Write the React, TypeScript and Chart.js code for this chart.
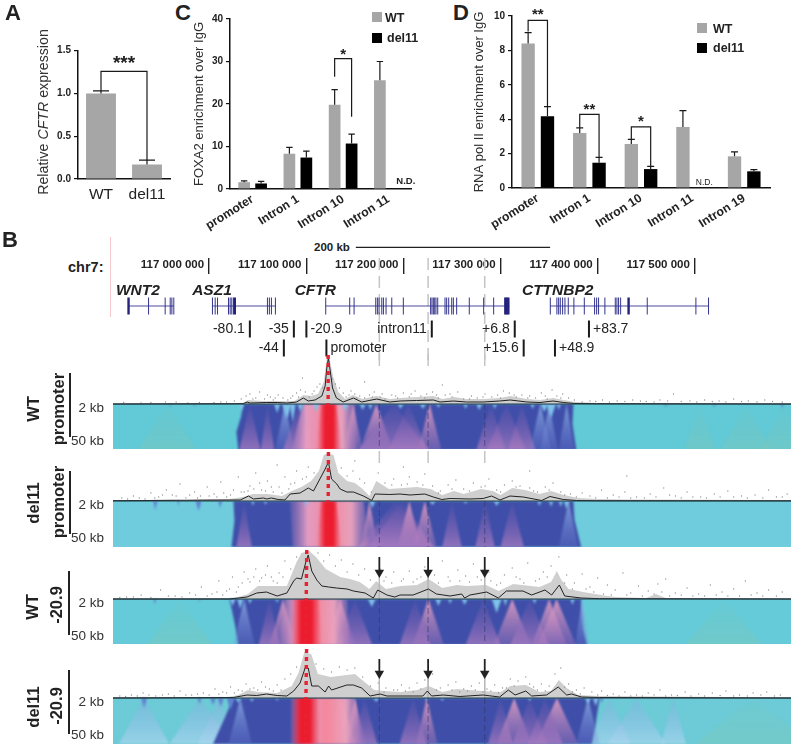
import React, { useEffect, useRef } from "react";
import { Chart, registerables } from "chart.js";
Chart.register(...registerables);

const FONT = '"Liberation Sans", Arial, sans-serif';
const GREY = "#a6a6a6";
const INK = "#222";

// ---------- Panel A ----------
const aCategories = ["WT", "del11"];
const aValues = [1.0, 0.17];
const aErrTop = [1.03, 0.22];

// ---------- Panel C ----------
const cCategories = ["promoter", "Intron 1", "Intron 10", "Intron 11"];
const cWT = [1.6, 8.3, 19.8, 25.6];
const cDel = [1.3, 7.4, 10.7, null];
const cWTErr = [1.9, 9.8, 23.4, 30];
const cDelErr = [1.8, 8.9, 12.9, null];

// ---------- Panel D ----------
const dCategories = ["promoter", "Intron 1", "Intron 10", "Intron 11", "Intron 19"];
const dWT = [8.4, 3.2, 2.56, 3.55, 1.84];
const dDel = [4.17, 1.47, 1.1, null, 0.97];
const dWTErr = [9.03, 3.5, 2.83, 4.5, 2.1];
const dDelErr = [4.73, 1.78, 1.26, null, 1.07];

// ---------- Panel B: genome browser (kb from chr7:117 000 000) ----------
const rulerTicks = [0, 100, 200, 300, 400, 500];
const rulerLabels = ["117 000 000", "117 100 000", "117 200 000", "117 300 000", "117 400 000", "117 500 000"];
const geneNames = ["WNT2", "ASZ1", "CFTR", "CTTNBP2"];
const geneLabelAt = [-96, -17.5, 88, 322];
const geneSpans = [[-83, -36.4], [3.4, 68.2], [120, 309], [351.2, 514.1]];
const exons = [
  -62.4, -45.3, -40.1, -38.4, -36.4,
  3.4, 6.2, 8.6, 19.9, 21.6, 23.3, 25, 60, 62, 64.1, 68.2,
  120, 144.7, 149.2, 171.5, 173.2, 174.9, 177.7, 179.4, 182.1, 188, 199.9, 228, 229.4, 230.8, 232.2, 233.5, 235.3,
  242.8, 244.5, 246.6, 249.7, 251.4, 254.8, 267.8, 282.6, 292.9,
  351.2, 358, 359.8, 361.5, 363.9, 366.3, 369.7, 375.5, 386.2, 396.8, 398.9, 400.9, 407.4, 418.1, 419.8, 421.5, 423.6, 451, 501.1, 514.1,
];
const thickExons = [-83, 26.4, 304.9, 306.3, 308, 431.8];
const siteNames = ["-80.1", "-35", "-20.9", "intron11", "+6.8", "+83.7", "-44", "promoter", "+15.6", "+48.9"];
const sitePos = [41.9, 87.2, 100.1, 229.2, 314.6, 391, 76.9, 120.7, 323.8, 356];
const siteRow = [0, 0, 0, 0, 0, 0, 1, 1, 1, 1];
const siteSide = ["L", "L", "R", "L", "L", "R", "L", "R", "L", "R"];
const guideLines = [175.2, 225.4, 283.7];
const scaleBar = [151, 351];

const heatTicks = [-37, -4];
const heatTickLabels = ["50 kb", "2 kb"];

const t1Line = [[-99,0],[35,0.3],[39,2],[42,1],[59,1.5],[70,1.5],[80,1],[90,2],[97,6],[102,3],[109,4],[116,8],[119.4,18],[121,35],[122.8,46],[124.5,34],[127,16],[131,6],[138,2],[148.5,6],[157,2],[172.5,5],[186,2],[196.5,3],[213.6,3.5],[230.8,4],[237.7,2],[251.4,3],[265,2],[282,2],[299,3],[310,4],[327,2],[340.6,1.5],[354,3],[364.6,1.5],[376.6,0.5],[399,0.3],[599,0]];
const t1Band = [[-99,0.5],[30,0.7],[35,1],[40,4],[55,3],[75,3],[88,3],[97,9],[105,8],[112,10],[118,22],[121,45],[122.5,48],[124,45],[128,26],[133,12],[140,5],[148,9],[158,5],[172,8],[186,5],[197,6],[214,7],[231,8],[240,5],[252,7],[265,5],[282,5],[299,6],[310,8],[327,5],[341,4],[354,6],[365,4],[377,2],[400,1],[599,0.5]];
const t1Dots = [[-70,1],[-45,2],[-22,1],[5,1.5],[18,2],[33,5],[38,8],[42,10],[48,6],[52,12],[57,5],[63,7],[66,4],[71,9],[76,6],[81,4],[86,8],[90,11],[94,14],[99,12],[103,7],[108,13],[111,17],[114,20],[117,16],[127,25],[130,20],[134,16],[138,11],[141,7],[146,13],[150,10],[155,8],[160,6],[165,9],[170,12],[176,7],[181,5],[188,9],[194,6],[200,11],[206,7],[212,13],[218,8],[224,10],[230,12],[236,6],[243,9],[250,7],[256,12],[262,5],[270,8],[276,6],[284,10],[291,7],[297,9],[303,13],[309,11],[316,7],[322,9],[330,8],[336,6],[342,11],[348,5],[353,14],[358,8],[364,10],[370,6],[376,4],[392,3],[405,4],[420,3],[436,4],[450,2.5],[464,4],[478,10],[495,3],[510,4],[525,3],[540,5],[555,3],[572,4],[590,2],[160,22],[240,19],[96,26],[-88,1.5],[-60,1.5],[-34,2],[-10,1.5],[12,2],[26,3],[45,5],[60,9],[68,6],[84,6],[92,7],[106,10],[144,9],[152,6],[168,7],[178,10],[192,8],[208,10],[222,6],[234,9],[248,10],[268,5],[282,7],[300,6],[314,9],[328,6],[346,8],[362,6],[384,2],[398,2.5],[412,2],[428,2.5],[444,3],[458,2],[472,3],[486,2.5],[502,2],[518,2.5],[532,2],[548,2.5],[564,2],[580,2.5]];

const t2Line = [[-99,0.3],[25,1],[32,1],[40.5,5],[45.6,2],[55.9,3],[59.3,2],[64,3],[71,1.5],[78,1],[83.4,7],[93.6,8],[102,13],[107.4,10],[114,22],[119.4,32],[122.8,39],[126,22],[131.4,17],[134.8,12],[141.7,9],[148.5,9],[158.8,5],[167.4,0.5],[170.8,7],[186,6.5],[196.5,7],[206.8,6],[222,7],[230.8,4],[239.4,1.5],[248,2.5],[268.5,2],[282,2.5],[290.8,5],[299.4,1],[309.7,5],[323.4,4],[342.3,0.5],[350.9,4.5],[364.6,1.5],[378.3,0.5],[399,0.3],[599,0.2]];
const t2Band = [[-99,1],[-60,1],[-40,1.5],[-25,1],[0,2],[20,2],[35,4],[45,7],[60,7],[75,5],[85,10],[95,14],[105,20],[113,30],[118,46],[122,48],[128,46],[133,28],[142,20],[150,18],[158,12],[165,5],[172,20],[185,12],[200,13],[214,14],[228,12],[240,6],[252,10],[262,7],[280,12],[292,10],[300,6],[312,13],[325,11],[340,7],[352,10],[365,6],[380,3],[400,2],[430,1.5],[599,1]];
const t2Dots = [[-90,3],[-78,5],[-66,2],[-60,8],[-52,4],[-44,11],[-38,6],[-30,17],[-24,3],[-15,9],[-9,5],[-2,14],[5,7],[12,19],[18,4],[25,11],[30,24],[36,9],[42,15],[48,28],[54,11],[60,20],[66,9],[72,14],[78,24],[84,17],[90,30],[96,22],[102,34],[108,28],[136,33],[142,25],[148,30],[155,22],[160,18],[167,9],[174,28],[181,18],[190,22],[198,16],[206,24],[214,19],[222,27],[230,15],[238,10],[246,16],[254,21],[262,12],[272,18],[280,14],[288,22],[296,11],[304,16],[312,20],[320,15],[330,13],[338,9],[346,14],[354,18],[362,9],[372,7],[384,8],[392,5],[404,11],[416,6],[428,9],[440,4],[454,7],[468,13],[480,5],[492,9],[506,4],[520,7],[534,10],[548,5],[562,6],[576,11],[590,4],[595,7],[150,40],[70,36],[200,34],[330,30],[430,25],[-84,2],[-72,3],[-56,3],[-48,6],[-34,5],[-20,6],[-12,3],[0,5],[8,4],[15,8],[22,6],[33,9],[40,10],[46,12],[52,18],[58,10],[64,14],[75,8],[82,12],[88,18],[100,24],[188,16],[204,17],[220,16],[236,8],[250,12],[268,10],[284,15],[300,9],[316,14],[334,10],[350,11],[366,6],[378,4],[398,3],[410,3],[422,4],[434,3],[448,3],[460,4],[474,6],[486,3],[498,4],[512,3],[526,4],[540,4],[554,3],[570,3],[584,4]];

const t3Line = [[-99,0],[21,0],[39,2],[49,6],[59,7],[70,3],[80,6],[87,18],[90,21],[95,20],[99.8,38],[102,44],[105.6,28],[110.8,19],[116,13],[123,12],[131,11],[142,10],[148.5,8],[160.5,6],[169,1],[173.5,9],[183,4],[191,2],[196.5,4],[210,4],[225.7,10],[234,5],[248,3],[260,5],[263,1],[268.5,4],[285.7,7],[297.7,1],[306,8],[323,8],[332,4],[345.7,9],[352.6,4],[360.5,14],[366,3],[383,1],[402,0.3],[599,0]];
const t3Band = [[-99,0.5],[25,1],[30,2],[40,5],[50,13],[65,13],[80,13],[85,25],[90,37],[95,46],[103,48],[110,42],[120,30],[135,22],[145,20],[155,17],[165,10],[172,18],[182,10],[197,13],[214,14],[226,20],[240,11],[255,14],[265,13],[285,14],[298,8],[313,15],[340,12],[352,17],[358,28],[362,20],[370,10],[385,7],[410,3],[420,2],[450,1],[460,5],[470,1],[599,0.5]];
const t3Dots = [[-85,2],[-70,4],[-60,1.5],[-50,9],[-35,3],[-20,6],[-8,12],[3,5],[10,18],[18,8],[24,22],[30,12],[36,27],[42,17],[48,30],[54,21],[60,33],[66,18],[72,26],[78,38],[84,30],[90,42],[112,46],[118,38],[124,44],[130,33],[136,39],[142,27],[148,35],[154,24],[160,30],[166,19],[176,30],[182,22],[190,27],[198,18],[206,28],[214,20],[222,32],[232,24],[240,38],[248,18],[256,29],[264,23],[272,35],[280,19],[288,27],[296,14],[304,24],[312,31],[320,20],[328,36],[336,18],[344,27],[352,33],[360,42],[368,24],[376,16],[384,25],[392,12],[400,21],[410,14],[418,9],[426,26],[434,6],[442,13],[452,8],[462,15],[470,20],[480,6],[492,11],[504,5],[516,14],[528,7],[540,10],[552,18],[564,6],[576,9],[590,7],[-92,1.5],[-78,2],[-42,3],[-28,2],[-14,4],[-2,3],[8,7],[14,4],[21,10],[28,7],[34,16],[40,20],[46,22],[52,18],[58,24],[64,22],[70,16],[76,22],[180,18],[188,16],[200,20],[210,17],[218,22],[236,16],[246,22],[258,18],[268,17],[276,22],[290,18],[300,16],[316,22],[324,16],[340,20],[348,22],[366,16],[374,10],[388,10],[396,7],[406,5],[414,4],[430,4],[446,3],[458,5],[466,7],[474,3],[486,4],[498,3],[510,3],[522,4],[534,3],[546,3],[558,4],[570,3],[584,3]];

const t4Line = [[-99,0],[25,0.5],[39,3],[49,2.5],[59,4],[70,2.5],[80,2],[87,7],[93.6,15],[99.5,32],[102,30],[105.6,12],[112.5,12],[119.4,6],[123,12],[126,8],[141.7,13],[148.5,13],[157,10],[165.7,2],[176,4],[183,2],[196.5,2],[210,2],[220,2],[224.6,7],[229,2],[241,3],[258,1.5],[282,3],[299,1],[308,8],[315,3],[326,7],[332,2],[347.4,3],[359.4,11],[368,3],[373,4],[383.4,1],[402,0.5],[599,0]];
const t4Band = [[-99,0.7],[0,1],[20,1],[30,3],[40,8],[50,6],[70,5],[85,12],[92,25],[98,46],[105,44],[112,24],[125,21],[150,24],[160,16],[170,8],[180,7],[197,6],[214,8],[226,12],[240,6],[255,9],[280,7],[300,6],[310,12],[326,13],[340,6],[352,7],[360,18],[368,10],[380,3],[400,2],[599,0.6]];
const t4Dots = [[-92,2],[-80,3],[-68,5],[-55,2],[-42,4],[-30,7],[-18,3],[-6,5],[6,9],[14,6],[22,11],[30,8],[38,14],[46,10],[54,16],[62,9],[70,13],[78,19],[84,24],[90,31],[110,34],[118,29],[126,26],[134,31],[142,28],[150,30],[158,21],[166,12],[174,15],[182,10],[190,8],[198,13],[206,10],[214,15],[222,18],[230,24],[238,10],[246,13],[254,16],[262,9],[270,12],[278,15],[286,9],[294,13],[302,10],[310,19],[318,17],[326,21],[334,11],[342,14],[350,12],[356,24],[362,30],[370,14],[378,8],[386,10],[394,6],[404,7],[416,4],[428,6],[440,3],[452,5],[464,8],[476,3],[490,6],[504,4],[518,5],[532,7],[546,3],[560,5],[574,6],[588,3],[-86,1.5],[-74,2],[-62,3],[-48,3],[-36,2],[-24,3],[-12,4],[0,3],[10,4],[18,5],[26,5],[34,7],[42,9],[50,8],[58,11],[66,7],[74,8],[180,6],[194,8],[202,7],[210,6],[218,9],[234,8],[250,8],[258,6],[266,7],[274,8],[282,6],[290,7],[298,5],[306,10],[314,12],[330,14],[338,8],[346,7],[366,11],[374,6],[382,4],[400,3],[410,2.5],[422,2],[434,2],[446,2],[458,3],[470,2],[482,2.5],[496,2],[510,2],[526,2.5],[540,2],[554,2],[568,3],[582,2]];

// heat map layers (kb, depth)
type Tri = [number, number, string];
const t1Domain = [[35,0],[375,0],[374,-20],[378,-46],[30,-46],[28,-28],[33,-12]];
const t2Domain = [[25,0],[375,0],[376,-18],[383,-46],[23,-46],[26,-20]];
const t3Domain = [[21,0],[383,0],[385,-30],[389,-46],[30,-46],[27,-28]];
const t4Domain = [[25,0],[402,0],[398,-25],[394,-46],[4,-46],[15,-22]];
const t1Tints: Tri[] = [[-43,30,"tint"],[553,26,"tint"],[591,22,"tint"],[505,16,"tint"]];
const t2Tints: Tri[] = [];
const t3Tints: Tri[] = [[-30,34,"tint"],[530,40,"tint"]];
const t4Tints: Tri[] = [[-67,26,"pale"],[-9,32,"pale"],[10,22,"pale"],[412,22,"pale"],[440,30,"pale"],[478,13,"pale"],[560,60,"tint"]];
const t1Tris: Tri[] = [[42,11,"purple"],[60,7,"purple"],[78,10,"sky"],[92,16,"purple"],[148,10,"pink"],[172,17,"pink"],[190,36,"purple"],[205,20,"purple"],[227,12,"pink"],[290,15,"purple"],[306,20,"purple"],[322,14,"purple"],[341,11,"sky"],[350,9,"sky"],[368,8,"sky"]];
const t2Tris: Tri[] = [[36,8,"purple"],[165,9,"pink"],[192,38,"purple"],[198,34,"purple"],[222,12,"pink"],[206,12,"pink"],[250,10,"purple"],[284,10,"purple"],[312,12,"purple"],[370,10,"sky"]];
const t3Tris: Tri[] = [[36,11,"sky"],[62,11,"purple"],[76,14,"pink"],[135,15,"pink"],[150,18,"purple"],[225.7,16,"pink"],[212,16,"purple"],[282,18,"purple"],[312,19,"pink"],[330,20,"purple"],[357.7,20,"pink"],[350,18,"pink"],[384,7,"sky"]];
const t4Tris: Tri[] = [[32,12,"sky"],[135,16,"pink"],[150,11,"pink"],[160,13,"purple"],[224,11,"pink"],[210,14,"purple"],[300,13,"purple"],[314,18,"pink"],[330,18,"purple"],[358,22,"pink"],[346,18,"purple"],[390,12,"sky"]];
const t1Dents = [[-40,1,3],[-15,1,3],[33,3,7],[70,3,9],[80,5,15],[86,3,18],[94,3,8],[110,3,8],[140,3,7],[158,3,6],[166,2,6],[197,3,5],[220,3,5],[236,2,4],[264,2,5],[278,3,6],[294,2,5],[333,2,5],[345,4,8],[352,5,14],[360,2,6],[470,1.5,3],[520,1.5,3],[590,1.5,4]];
const t2Dents = [[-55.5,2,9],[-31.6,1,5],[-11,3,10],[11.3,2,7],[45,1.5,5],[58,1.5,4],[100,2,5],[168,3,7],[230,3,4],[264,2,3],[296,3,5],[340,2,5],[352,2,6],[362,2,6],[368,3,8]];
const t3Dents = [[-56,1.5,5],[-10,1,3],[24,3,7],[32,3,10],[42,2,5],[70,1.5,4],[167.4,4,8],[236,3,7],[248,2,5],[263,3,6],[296,5,14],[305,2,7],[335,2,5],[374,2,6]];
const t4Dents = [[-67,3,10],[-10,2,6],[4,3,7],[12,3,9],[22,4,12],[30,3,5],[44,2,4],[70,1.5,3],[172,3,4],[224,2,3],[240,2,3],[330,2,3],[390,3,6],[398,3,8],[404,2,5]];
const pinkBands = [[96,150,85,152],[83,159,86,165],[78,142,72,145],[84,150,84,157]];
const redBands = [[115,131,111,136],[115,131,111,136],[86,113,84,116],[86,112,84,114]];
const redMarks = [[122.5,122.5],[122.8,122.3],[100.5,99.3],[100.3,99]];
const arrowsAt = [175.2, 225.4, 283.7];

const tracks = [
  { name: ["WT", "promoter"], base: 404, depth: 45, teal: "#62c9d6", domain: t1Domain, tints: t1Tints, tris: t1Tris, dents: t1Dents, line: t1Line, band: t1Band, dots: t1Dots, arrows: false },
  { name: ["del11", "promoter"], base: 501, depth: 46, teal: "#6fccdd", domain: t2Domain, tints: t2Tints, tris: t2Tris, dents: t2Dents, line: t2Line, band: t2Band, dots: t2Dots, arrows: false },
  { name: ["WT", "-20.9"], base: 599, depth: 45, teal: "#65cbd8", domain: t3Domain, tints: t3Tints, tris: t3Tris, dents: t3Dents, line: t3Line, band: t3Band, dots: t3Dots, arrows: true },
  { name: ["del11", "-20.9"], base: 698, depth: 46, teal: "#6ccbd6", domain: t4Domain, tints: t4Tints, tris: t4Tris, dents: t4Dents, line: t4Line, band: t4Band, dots: t4Dots, arrows: true },
];

const triKinds: Record<string, [string, string]> = {
  pink: ["rgba(238,165,195,.85)", "rgba(165,118,188,.4)"],
  purple: ["rgba(120,90,175,.15)", "rgba(165,122,192,.8)"],
  sky: ["rgba(150,185,235,.75)", "rgba(110,130,215,.25)"],
  pale: ["rgba(135,170,225,.3)", "rgba(170,215,240,.7)"],
  tint: ["rgba(125,200,185,.05)", "rgba(125,200,185,.45)"],
};
const pinkStops = ["rgba(190,130,190,0)", "rgba(236,160,195,.95)", "rgba(245,135,155,1)", "rgba(240,165,190,.95)", "rgba(190,130,190,0)"];
const redStops = ["rgba(238,40,60,0)", "rgba(236,28,46,1)", "rgba(236,28,46,1)", "rgba(238,40,60,0)"];

function toPts(a: number[][]) { return a.map(([x, y]) => ({ x, y })); }

// track canvases share one frame: baseline 50px down, plot from 43px over a 678px wide area
const kbToCanvas = (kb: number) => 43 + ((kb + 99) / 698) * 678;
function vgrad(top: string, bottom: string) {
  let g: any = null;
  return (c: any) => {
    if (!g) {
      g = c.chart.ctx.createLinearGradient(0, 50, 0, 96);
      g.addColorStop(0, top); g.addColorStop(1, bottom);
    }
    return g;
  };
}
function hgrad(l: number, r: number, stops: string[]) {
  let g: any = null;
  return (c: any) => {
    if (!g) {
      g = c.chart.ctx.createLinearGradient(kbToCanvas(l), 0, kbToCanvas(r), 0);
      stops.forEach((s, i) => g.addColorStop(i / (stops.length - 1), s));
    }
    return g;
  };
}
function poly(points: number[][], backgroundColor: any) {
  return { data: toPts(points), showLine: true, fill: "shape", backgroundColor, borderWidth: 0, pointRadius: 0, tension: 0 };
}
const zeroPad = (s: any) => { s.paddingTop = 0; s.paddingBottom = 0; s.paddingLeft = 0; s.paddingRight = 0; };

type Bracket = { cat: number; top: number; left: number; right: number; label: string; size: number; lift: number };
function barDecor(cfg: { errs: (number | null)[][]; cap: number; brackets: Bracket[]; notes?: { cat: number; ds: number; text: string; font: string; dx: number; dy: number }[] }) {
  return {
    id: "barDecor",
    afterDatasetsDraw(chart: any) {
      const { ctx, scales } = chart;
      const y = scales.y;
      ctx.save();
      ctx.strokeStyle = "#1a1a1a";
      cfg.errs.forEach((series, ds) => {
        const meta = chart.getDatasetMeta(ds);
        series.forEach((v, i) => {
          if (v === null) return;
          const bar = meta.data[i];
          const py = y.getPixelForValue(v);
          ctx.lineWidth = 1.2;
          ctx.beginPath();
          ctx.moveTo(bar.x, bar.y); ctx.lineTo(bar.x, py);
          ctx.moveTo(bar.x - cfg.cap, py); ctx.lineTo(bar.x + cfg.cap, py);
          ctx.stroke();
        });
      });
      const single = chart.data.datasets.length === 1;
      cfg.brackets.forEach((b) => {
        const xL = chart.getDatasetMeta(0).data[b.cat].x;
        const xR = single ? chart.getDatasetMeta(0).data[b.cat + 1].x : chart.getDatasetMeta(1).data[b.cat].x;
        ctx.lineWidth = 1.2;
        ctx.beginPath();
        ctx.moveTo(xL, y.getPixelForValue(b.left));
        ctx.lineTo(xL, y.getPixelForValue(b.top));
        ctx.lineTo(xR, y.getPixelForValue(b.top));
        ctx.lineTo(xR, y.getPixelForValue(b.right));
        ctx.stroke();
        ctx.fillStyle = "#222";
        ctx.font = `bold ${b.size}px ${FONT}`;
        ctx.textAlign = "center";
        ctx.textBaseline = "middle";
        ctx.fillText(b.label, (xL + xR) / 2, y.getPixelForValue(b.top) - b.lift);
      });
      (cfg.notes || []).forEach((n) => {
        const bar = chart.getDatasetMeta(n.ds).data[n.cat];
        ctx.font = n.font;
        ctx.fillStyle = "#222";
        ctx.textAlign = "center";
        ctx.textBaseline = "middle";
        ctx.fillText(n.text, bar.x + n.dx, y.getPixelForValue(0) + n.dy);
      });
      ctx.restore();
    },
  };
}

function barConfig(o: any) {
  const { box, plot, categories, series, yMax, step, tickFmt, title, xFont, rotation, catPct, barPct, decor, tickPad } = o;
  const yWidth = plot.l - box.l;
  const xHeight = box.t + box.h - plot.b;
  return {
    type: "bar",
    data: {
      labels: categories,
      datasets: series.map((s: any) => ({ label: s.label, data: s.data, backgroundColor: s.color, categoryPercentage: catPct, barPercentage: barPct })),
    },
    options: {
      responsive: false,
      animation: false,
      layout: { autoPadding: false, padding: { top: plot.t - box.t, right: box.l + box.w - plot.r, left: 0, bottom: 0 } },
      plugins: { legend: { display: false }, tooltip: { enabled: false } },
      scales: {
        x: {
          afterFit: (s: any) => { s.height = xHeight; zeroPad(s); },
          grid: { display: false },
          border: { color: "#111", width: 1.5 },
          ticks: { color: INK, font: xFont, minRotation: rotation, maxRotation: rotation, padding: tickPad, autoSkip: false },
        },
        y: {
          min: 0, max: yMax,
          afterFit: (s: any) => { s.width = yWidth; zeroPad(s); },
          grid: { drawOnChartArea: false, drawTicks: true, tickLength: 4, color: "#111", lineWidth: 1.2 },
          border: { color: "#111", width: 1.5 },
          title: title ? { display: true, text: title, color: "#2e2e2e", font: { family: FONT, size: 13 }, padding: 0 } : { display: false },
          ticks: { stepSize: step, color: INK, font: { family: FONT, size: 10, weight: "bold" }, padding: 3, callback: tickFmt },
        },
      },
    },
    plugins: [barDecor(decor)],
  };
}

function geneConfig() {
  const pad = { left: 113, right: 5, top: 0, bottom: 0 };
  const pts = (xs: number[], y: number) => xs.map((x) => ({ x, y }));
  const laneGene = 32;
  const rowY = [55, 74];
  const datasets: any[] = [];
  guideLines.forEach((g) => datasets.push({ data: [{ x: g, y: -16 }, { x: g, y: 86 }], showLine: true, borderColor: "#c4c4c4", borderWidth: 1.5, borderDash: [12, 6], pointRadius: 0, clip: false }));
  geneSpans.forEach((s) => datasets.push({ data: pts(s, laneGene), showLine: true, borderColor: "#4a4a9e", borderWidth: 1, pointRadius: 0 }));
  datasets.push({ data: pts(exons, laneGene), pointStyle: "line", rotation: 90, radius: 8.5, borderColor: "#34348e", borderWidth: 1 });
  datasets.push({ data: pts(thickExons, laneGene), pointStyle: "line", rotation: 90, radius: 8.5, borderColor: "#23237e", borderWidth: 2.4 });
  datasets.push({ data: sitePos.map((x, i) => ({ x, y: rowY[siteRow[i]] })), pointStyle: "line", rotation: 90, radius: 8.5, borderColor: "#1a1a1a", borderWidth: 2 });
  datasets.push({ data: pts(scaleBar, -26.7), showLine: true, borderColor: "#222", borderWidth: 1.2, pointStyle: "line", rotation: 90, radius: 4.5, clip: false });
  const labels = {
    id: "geneLabels",
    afterDraw(chart: any) {
      const { ctx, scales } = chart;
      ctx.save();
      ctx.textBaseline = "middle";
      ctx.fillStyle = "#222";
      ctx.font = `italic bold 15.5px ${FONT}`;
      ctx.textAlign = "left";
      geneNames.forEach((n, i) => ctx.fillText(n, scales.x.getPixelForValue(geneLabelAt[i]), scales.y.getPixelForValue(17)));
      ctx.font = `14px ${FONT}`;
      siteNames.forEach((n, i) => {
        const left = siteSide[i] === "L";
        ctx.textAlign = left ? "right" : "left";
        ctx.fillText(n, scales.x.getPixelForValue(sitePos[i]) + (left ? -5 : 4), scales.y.getPixelForValue(rowY[siteRow[i]]));
      });
      ctx.restore();
    },
  };
  return {
    type: "scatter",
    data: { datasets: datasets.map((d, i) => ({ ...d, order: -i })) },
    options: {
      responsive: false,
      animation: false,
      layout: { autoPadding: false, padding: pad },
      plugins: { legend: { display: false }, tooltip: { enabled: false } },
      scales: {
        x: {
          type: "linear", min: -99, max: 599, position: "top",
          afterFit: (s: any) => { s.height = 38; zeroPad(s); },
          afterBuildTicks: (s: any) => { s.ticks = rulerTicks.map((value) => ({ value })); },
          grid: { drawOnChartArea: false, drawTicks: true, tickLength: 16, color: "#222", lineWidth: 1.4 },
          border: { display: false },
          ticks: {
            autoSkip: false, maxRotation: 0, align: "end", padding: -14, labelOffset: -5, color: "#222",
            font: { family: FONT, size: 11.5, weight: "bold" },
            callback: (v: number) => rulerLabels[rulerTicks.indexOf(v)],
          },
        },
        y: { display: false, min: 0, max: 86, reverse: true, afterFit: zeroPad },
      },
    },
    plugins: [labels],
  };
}

function trackConfig(t: (typeof tracks)[number], idx: number) {
  const ds: any[] = [];
  ds.push(poly([[-99, 0], [599, 0], [599, -46], [-99, -46]], t.teal));
  t.tints.forEach(([a, h, k]) => ds.push(poly([[a, 0], [a + h, -46], [a - h, -46]], vgrad(triKinds[k][0], triKinds[k][1]))));
  ds.push(poly(t.domain, "#3f4fa9"));
  t.tris.forEach(([a, h, k]) => ds.push(poly([[a, 0], [a + h, -46], [a - h, -46]], vgrad(triKinds[k][0], triKinds[k][1]))));
  const pb = pinkBands[idx];
  ds.push(poly([[pb[0], 0], [pb[1], 0], [pb[3], -46], [pb[2], -46]], hgrad(Math.min(pb[0], pb[2]) - 4, Math.max(pb[1], pb[3]) + 4, pinkStops)));
  const rb = redBands[idx];
  ds.push(poly([[rb[0], 0], [rb[1], 0], [rb[3], -46], [rb[2], -46]], hgrad(Math.min(rb[0], rb[2]), Math.max(rb[1], rb[3]), redStops)));
  t.dents.forEach(([x, h, d]) => ds.push(poly([[x - h, 0], [x + h, 0], [x, -d]], x > 22 && x < 400 ? "#7fc3ea" : "#5f7fd0")));
  const lastHeat = ds.length - 1;
  ds.push({ data: toPts(t.band), showLine: true, fill: { value: 0 }, backgroundColor: "#cfcfcf", borderWidth: 0, pointRadius: 0 });
  ds.push({ data: toPts(t.dots), pointRadius: 0.65, backgroundColor: "#8f8f8f", borderWidth: 0 });
  guideLines.forEach((g) => {
    ds.push({ data: [{ x: g, y: 0 }, { x: g, y: -46 }], showLine: true, borderColor: "rgba(50,50,90,.55)", borderWidth: 1, borderDash: [6, 3], pointRadius: 0 });
    if (!t.arrows) ds.push({ data: [{ x: g, y: 50 }, { x: g, y: 36 }], showLine: true, borderColor: "#c4c4c4", borderWidth: 1.5, borderDash: [12, 6], pointRadius: 0 });
    else ds.push({ data: [{ x: g, y: 22 }, { x: g, y: 0 }], showLine: true, borderColor: "#b8b8b8", borderWidth: 1, pointRadius: 0 });
  });
  ds.push({ data: toPts(t.line), showLine: true, borderColor: "#222", borderWidth: 1, pointRadius: 0, tension: 0 });
  ds.push({ data: [{ x: -99, y: 0 }, { x: 599, y: 0 }], showLine: true, borderColor: "#1f3a44", borderWidth: 1, pointRadius: 0 });
  const rm = redMarks[idx];
  ds.push({ data: [{ x: rm[0], y: 49 }, { x: rm[1], y: -46 }], showLine: true, borderColor: "#e8202f", borderWidth: 3.4, borderDash: [4, 4], pointRadius: 0 });
  if (t.arrows) {
    ds.push({ data: arrowsAt.map((x) => ({ x, y: idx === 2 ? 34 : 31 })), pointStyle: "line", rotation: 90, radius: 8, borderColor: "#222", borderWidth: 1.8 });
    ds.push({ data: arrowsAt.map((x) => ({ x, y: idx === 2 ? 26.5 : 24.5 })), pointStyle: "triangle", rotation: 180, radius: 5.5, backgroundColor: "#222", borderWidth: 0 });
  }
  const soft = {
    id: "softHeat",
    afterDatasetDraw(chart: any, args: any) {
      if (args.index === 0) chart.ctx.filter = "blur(1.3px)";
      if (args.index === lastHeat) chart.ctx.filter = "none";
    },
  };
  return {
    type: "scatter",
    data: { datasets: ds.map((d, i) => ({ ...d, order: -i })) },
    options: {
      responsive: false,
      animation: false,
      layout: { autoPadding: false, padding: { left: 0, right: 5, top: 0, bottom: 0 } },
      plugins: { legend: { display: false }, tooltip: { enabled: false } },
      scales: {
        x: { type: "linear", display: false, min: -99, max: 599 },
        y: {
          min: -t.depth, max: 50,
          afterFit: (s: any) => { s.width = 43; zeroPad(s); },
          afterBuildTicks: (s: any) => { s.ticks = heatTicks.map((value) => ({ value })); },
          grid: { display: false },
          border: { display: false },
          ticks: {
            autoSkip: false, padding: 1, color: "#333",
            font: { family: FONT, size: 13.5 },
            callback: (v: number) => heatTickLabels[heatTicks.indexOf(v)],
          },
        },
      },
    },
    plugins: [soft],
  };
}

function ChartBox({ box, make }: { box: { l: number; t: number; w: number; h: number }; make: () => any }) {
  const ref = useRef<HTMLCanvasElement | null>(null);
  useEffect(() => {
    const chart = new Chart(ref.current as HTMLCanvasElement, make());
    return () => chart.destroy();
  }, []);
  return <canvas ref={ref} width={box.w} height={box.h} style={{ position: "absolute", left: box.l, top: box.t, width: box.w, height: box.h, display: "block" }} />;
}

function T({ x, y, children, size, bold, rot, color }: any) {
  return (
    <div style={{
      position: "absolute", left: x, top: y, whiteSpace: "nowrap", fontSize: size, fontWeight: bold ? 700 : 400,
      color: color || "#222", lineHeight: 1, transform: rot ? "translate(-50%,-50%) rotate(-90deg)" : "translateY(-50%)",
    }}>{children}</div>
  );
}
function Sq({ x, y, s, c }: any) {
  return <div style={{ position: "absolute", left: x, top: y, width: s, height: s, background: c }} />;
}
function VBar({ x, t, b, c, w }: any) {
  return <div style={{ position: "absolute", left: x, top: t, width: w || 2, height: b - t, background: c || "#222" }} />;
}

const boxA = { l: 48, t: 40, w: 130, h: 170 };
const boxC = { l: 192, t: 8, w: 228, h: 232 };
const boxD = { l: 472, t: 5, w: 305, h: 232 };
const rotFont = { family: FONT, size: 12.3, weight: "bold" };

export default function App() {
  return (
    <div style={{ position: "absolute", left: 0, top: 0, width: 796, height: 747, overflow: "hidden", background: "#fff", fontFamily: FONT }}>
      <ChartBox box={boxA} make={() => barConfig({
        box: boxA, plot: { l: 78, t: 50.7, r: 170, b: 179 }, categories: aCategories,
        series: [{ label: "expression", data: aValues, color: GREY }], yMax: 1.5, step: 0.5, tickFmt: (v: number) => v.toFixed(1),
        xFont: { family: FONT, size: 15.5 }, rotation: 0, catPct: 1, barPct: 0.65, tickPad: -2,
        decor: { errs: [aErrTop], cap: 8, brackets: [{ cat: 0, top: 1.258, left: 1.03, right: 0.22, label: "***", size: 19, lift: 8 }] },
      })} />
      <ChartBox box={boxC} make={() => barConfig({
        box: boxC, plot: { l: 230, t: 19, r: 411, b: 189 }, categories: cCategories,
        series: [{ label: "WT", data: cWT, color: GREY }, { label: "del11", data: cDel, color: "#000" }], yMax: 40, step: 10, tickFmt: (v: number) => String(v),
        title: "FOXA2 enrichment over IgG", xFont: rotFont, rotation: 32, catPct: 0.75, barPct: 0.69, tickPad: -5,
        decor: {
          errs: [cWTErr, cDelErr], cap: 3.2,
          brackets: [{ cat: 2, top: 30.66, left: 26.4, right: 17, label: "*", size: 15, lift: 4 }],
          notes: [{ cat: 3, ds: 1, text: "N.D.", font: `bold 9.5px ${FONT}`, dx: 9, dy: -8 }],
        },
      })} />
      <ChartBox box={boxD} make={() => barConfig({
        box: boxD, plot: { l: 512, t: 16, r: 770, b: 188 }, categories: dCategories,
        series: [{ label: "WT", data: dWT, color: GREY }, { label: "del11", data: dDel, color: "#000" }], yMax: 10, step: 2, tickFmt: (v: number) => String(v),
        title: "RNA pol II enrichment over IgG", xFont: rotFont, rotation: 32, catPct: 0.75, barPct: 0.69, tickPad: -5,
        decor: {
          errs: [dWTErr, dDelErr], cap: 3.5,
          brackets: [
            { cat: 0, top: 9.75, left: 9.1, right: 4.73, label: "**", size: 15, lift: 5 },
            { cat: 1, top: 4.28, left: 3.5, right: 1.78, label: "**", size: 15, lift: 5 },
            { cat: 2, top: 3.55, left: 2.83, right: 1.26, label: "*", size: 15, lift: 5 },
          ],
          notes: [{ cat: 3, ds: 1, text: "N.D.", font: `8.5px ${FONT}`, dx: 2, dy: -5.5 }],
        },
      })} />

      <T x={43} y={112} size={14.2} rot color="#333"><span>Relative <i>CFTR</i> expression</span></T>
      <T x={5} y={13} size={22} bold>A</T>
      <T x={175} y={13} size={22} bold>C</T>
      <T x={453} y={13} size={22} bold>D</T>
      <T x={2} y={240} size={22} bold>B</T>

      <Sq x={372} y={12} s={10} c={GREY} />
      <T x={385} y={18} size={12.5} bold>WT</T>
      <Sq x={372} y={33} s={10} c="#000" />
      <T x={387} y={38} size={12.5} bold>del11</T>
      <Sq x={697} y={23} s={10} c={GREY} />
      <T x={713} y={29} size={12.5} bold>WT</T>
      <Sq x={697} y={43} s={10} c="#000" />
      <T x={713} y={48} size={12.5} bold>del11</T>

      <VBar x={110} t={237} b={317} c="#f6c9cd" w={1} />
      <T x={68} y={267} size={14.5} bold>chr7:</T>
      <T x={314} y={248} size={11.5} bold>200 kb</T>
      <ChartBox box={{ l: 0, t: 236, w: 796, h: 124 }} make={geneConfig} />

      {tracks.map((t, i) => (
        <ChartBox key={i} box={{ l: 70, t: t.base - 50, w: 726, h: 50 + t.depth }} make={() => trackConfig(t, i)} />
      ))}

      <T x={33} y={409} size={16.5} bold rot>WT</T>
      <T x={58} y={409} size={16.5} bold rot>promoter</T>
      <VBar x={69} t={373} b={437} />
      <T x={33} y={503} size={16.5} bold rot>del11</T>
      <T x={58} y={502} size={16.5} bold rot>promoter</T>
      <VBar x={69} t={471} b={534} />
      <T x={32} y={607} size={16.5} bold rot>WT</T>
      <T x={56} y={605} size={16.5} bold rot>-20.9</T>
      <VBar x={67.5} t={571} b={635} />
      <T x={33} y={707} size={16.5} bold rot>del11</T>
      <T x={56} y={706} size={16.5} bold rot>-20.9</T>
      <VBar x={67.5} t={670} b={734} />
    </div>
  );
}
